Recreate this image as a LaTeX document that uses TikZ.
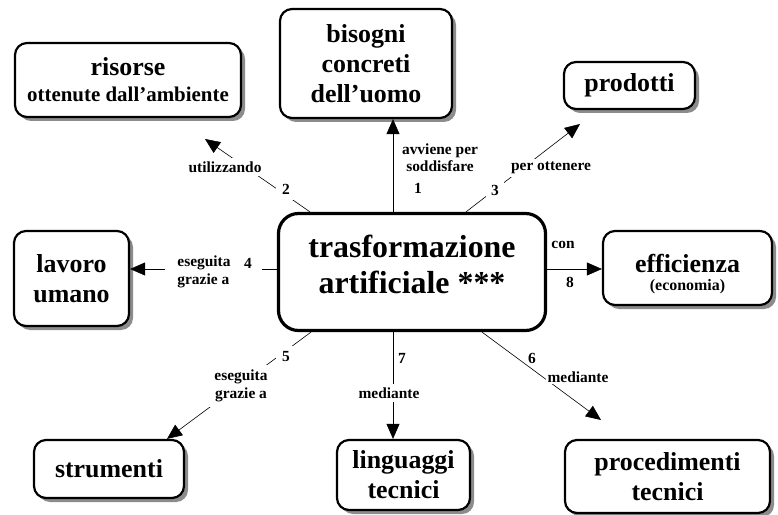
\documentclass[tikz,border=0pt]{standalone}
\usepackage{fontspec}
\setmainfont{Liberation Serif}
\usetikzlibrary{arrows.meta,shadows}
\begin{document}
\begin{tikzpicture}[x=1bp,y=-1bp,
  box/.style={draw, line width=2.2bp, rounded corners=12bp, fill=white, align=center,
    inner sep=0pt, font=\bfseries\fontsize{26}{30}\selectfont,
    drop shadow={shadow xshift=4bp, shadow yshift=-4bp, fill=black!45, opacity=1}},
  mainbox/.style={draw, line width=3.2bp, rounded corners=20bp, fill=white, align=center,
    inner sep=0pt, font=\bfseries\fontsize{32}{36}\selectfont},
  conn/.style={line width=0.6bp, -{Triangle[length=15bp,width=13bp]}},
  lbl/.style={fill=white, inner sep=3bp, align=center, font=\bfseries\fontsize{15.5}{18}\selectfont}
]
\useasboundingbox[fill=white] (0,0) rectangle (778,515);

% boxes
\node[box, minimum width=226bp, minimum height=74bp] (risorse) at (128,80)
  {risorse\\[-4bp]{\fontsize{21}{24}\selectfont ottenute dall’ambiente}};
\node[box, minimum width=172bp, minimum height=109bp] (bisogni) at (366,63.5)
  {bisogni\\concreti\\dell’uomo};
\node[box, minimum width=131bp, minimum height=47bp] (prodotti) at (629.5,85.5) {prodotti};
\node[box, minimum width=115bp, minimum height=95bp] (lavoro) at (71.5,278.5) {lavoro\\umano};
\node[mainbox, minimum width=267bp, minimum height=117bp] (central) at (412,272)
  {trasformazione\\artificiale ***\rule[-16bp]{0pt}{16bp}};
\node[box, minimum width=169bp, minimum height=74bp] (efficienza) at (687.5,268)
  {\rule{0pt}{30bp}efficienza\\[-12bp]{\fontsize{16}{18}\selectfont (economia)}};
\node[box, minimum width=150bp, minimum height=58bp] (strumenti) at (109,469) {strumenti};
\node[box, minimum width=133bp, minimum height=70bp] (linguaggi) at (403.5,475) {linguaggi\\tecnici};
\node[box, minimum width=205bp, minimum height=73bp] (procedimenti) at (667.5,476.5) {procedimenti\\tecnici};

% helper coordinates
\coordinate (x1) at (393,0);
\coordinate (y4) at (0,269);
\coordinate (s2) at (310,0);
\coordinate (t2) at (205,139);
\coordinate (s3) at (466,0);
\coordinate (t3) at (580,124);
\coordinate (s5) at (311,0);
\coordinate (t5) at (167,0);
\coordinate (s6) at (482,0);
\coordinate (t6) at (601,420);

% connectors
\draw[conn] (central.north -| x1) -- (bisogni.south -| x1);
\draw[conn] (central.north -| s2) -- (t2);
\draw[conn] (central.north -| s3) -- (t3);
\draw[conn] (central.west |- y4) -- (lavoro.east |- y4);
\draw[conn] (central.south -| s5) -- (strumenti.north -| t5);
\draw[conn] (central.south -| s6) -- (t6);
\draw[conn] (central.south -| x1) -- (linguaggi.north -| x1);
\draw[conn] (central.east |- y4) -- (efficienza.west |- y4);

% labels
\node[lbl, fill=none, font=\bfseries\fontsize{15.5}{17}\selectfont] (l1a) at (440,158) {avviene per\\soddisfare};
\node[lbl, fill=none] (l1n) at (418,188) {1};
\node[lbl, inner sep=4bp] (l2a) at (225,167) {utilizzando};
\node[lbl, inner sep=6bp] (l2n) at (286,189) {2};
\node[lbl, inner sep=5bp] (l3n) at (495,190) {3};
\node[lbl] (l3a) at (551,168) {per ottenere};
\node[lbl, align=left, inner xsep=12.5bp] (l4a) at (204,272) {eseguita\\grazie a};
\node[lbl, inner xsep=10bp] (l4n) at (248,263) {4};
\node[lbl, inner sep=6bp] (l5n) at (286,357) {5};
\node[lbl, inner sep=5bp] (l5a) at (241,386) {eseguita\\grazie a};
\node[lbl, fill=none] (l6n) at (532,358) {6};
\node[lbl, inner sep=2bp] (l6a) at (578,377) {mediante};
\node[lbl, fill=none] (l7n) at (402,358) {7};
\node[lbl, inner sep=4bp] (l7a) at (389,393) {mediante};
\node[lbl, fill=none] (l8a) at (563,245) {con};
\node[lbl, fill=none] (l8n) at (570,282) {8};
\end{tikzpicture}
\end{document}
